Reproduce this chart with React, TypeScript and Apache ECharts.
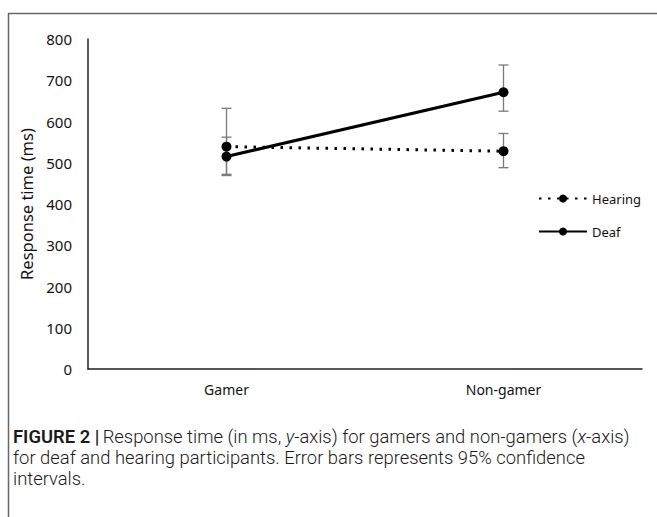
import React, { useEffect, useRef } from "react";
import * as echarts from "echarts";

const categories = ["Gamer", "Non-gamer"];
const hearingMeans = [539, 528];
const hearingLow = [472, 488];
const hearingHigh = [632, 571];
const deafMeans = [515, 671];
const deafLow = [469, 625];
const deafHigh = [562, 737];
const yMin = 0;
const yMax = 800;
const yStep = 100;

const captionLines = [
  "{b|FIGURE 2 |} {n|Response time (in ms, }{i|y}{n|-axis) for gamers and non-gamers (}{i|x}{n|-axis)}",
  "{n|for deaf and hearing participants. Error bars represents 95% confidence}",
  "{n|intervals.}",
];

const chartFont = "'Noto Sans', 'Open Sans', sans-serif";
const capFont = "Roboto, 'Liberation Sans', sans-serif";
const capSize = 18.4;

export default function App() {
  const ref = useRef<HTMLDivElement>(null);
  useEffect(() => {
    const chart = echarts.init(ref.current!, null, { renderer: "svg" });
    const errorData: number[][] = [];
    categories.forEach((_, i) => errorData.push([i, hearingLow[i], hearingHigh[i]]));
    categories.forEach((_, i) => errorData.push([i, deafLow[i], deafHigh[i]]));
    const barColor = "#7a7a7a";
    chart.setOption({
      animation: false,
      backgroundColor: "#ffffff",
      grid: { left: 88, right: 15, top: 39, bottom: 148, containLabel: false },
      legend: {
        data: ["Hearing", "Deaf"],
        orient: "vertical",
        left: 533,
        top: 187,
        itemWidth: 48,
        itemHeight: 10,
        itemGap: 20,
        textStyle: { fontFamily: chartFont, fontSize: 13, color: "#111" },
      },
      xAxis: {
        type: "category",
        data: categories,
        boundaryGap: true,
        axisLine: { lineStyle: { color: "#222", width: 1.5 } },
        axisTick: { show: false },
        axisLabel: { fontFamily: chartFont, fontSize: 14, color: "#111", margin: 13 },
        splitLine: { show: false },
      },
      yAxis: {
        type: "value",
        min: yMin,
        max: yMax,
        interval: yStep,
        name: "Response time (ms)",
        nameLocation: "middle",
        nameGap: 47,
        nameTextStyle: { fontFamily: chartFont, fontSize: 16.5, color: "#111" },
        axisLine: { show: true, lineStyle: { color: "#222", width: 1.5 } },
        axisTick: { show: false },
        axisLabel: { fontFamily: chartFont, fontSize: 15, color: "#111", margin: 16 },
        splitLine: { show: false },
      },
      series: [
        {
          type: "custom",
          name: "errors",
          z: 1,
          data: errorData,
          encode: { x: 0, y: [1, 2] },
          renderItem: (params: any, api: any) => {
            const x = api.value(0);
            const p1 = api.coord([x, api.value(2)]);
            const p2 = api.coord([x, api.value(1)]);
            const hw = 5;
            const st = { stroke: barColor, lineWidth: 1.3 };
            return {
              type: "group",
              children: [
                { type: "line", shape: { x1: p1[0], y1: p1[1], x2: p2[0], y2: p2[1] }, style: st },
                { type: "line", shape: { x1: p1[0] - hw, y1: p1[1], x2: p1[0] + hw, y2: p1[1] }, style: st },
                { type: "line", shape: { x1: p2[0] - hw, y1: p2[1], x2: p2[0] + hw, y2: p2[1] }, style: st },
              ],
            };
          },
        },
        {
          type: "line",
          name: "Hearing",
          z: 3,
          data: hearingMeans,
          symbol: "circle",
          symbolSize: 10,
          itemStyle: { color: "#000" },
          lineStyle: { color: "#000", width: 3, type: [2.5, 6.5] },
        },
        {
          type: "line",
          name: "Deaf",
          z: 4,
          data: deafMeans,
          symbol: "circle",
          symbolSize: 10,
          itemStyle: { color: "#000" },
          lineStyle: { color: "#000", width: 3.2, type: "solid" },
        },
      ],
      graphic: [
        {
          type: "line",
          shape: { x1: 8.5, y1: 13, x2: 8.5, y2: 517 },
          style: { stroke: "#666", lineWidth: 1.5 },
        },
        {
          type: "line",
          shape: { x1: 8, y1: 13.5, x2: 657, y2: 13.5 },
          style: { stroke: "#666", lineWidth: 1.5 },
        },
        {
          type: "text",
          left: 13,
          top: 426,
          style: {
            text: captionLines.join("\n"),
            lineHeight: 21,
            rich: {
              b: { fontFamily: capFont, fontWeight: 600, fontSize: capSize, lineHeight: 21, fill: "#1a1a1a" },
              n: { fontFamily: capFont, fontWeight: 300, fontSize: capSize, lineHeight: 21, fill: "#1a1a1a" },
              i: { fontFamily: capFont, fontWeight: 300, fontStyle: "italic", fontSize: capSize, lineHeight: 21, fill: "#1a1a1a" },
            },
          },
        },
      ],
    });
    return () => chart.dispose();
  }, []);
  return (
    <div
      ref={ref}
      style={{ position: "absolute", left: 0, top: 0, width: 657, height: 517, background: "#fff" }}
    />
  );
}
